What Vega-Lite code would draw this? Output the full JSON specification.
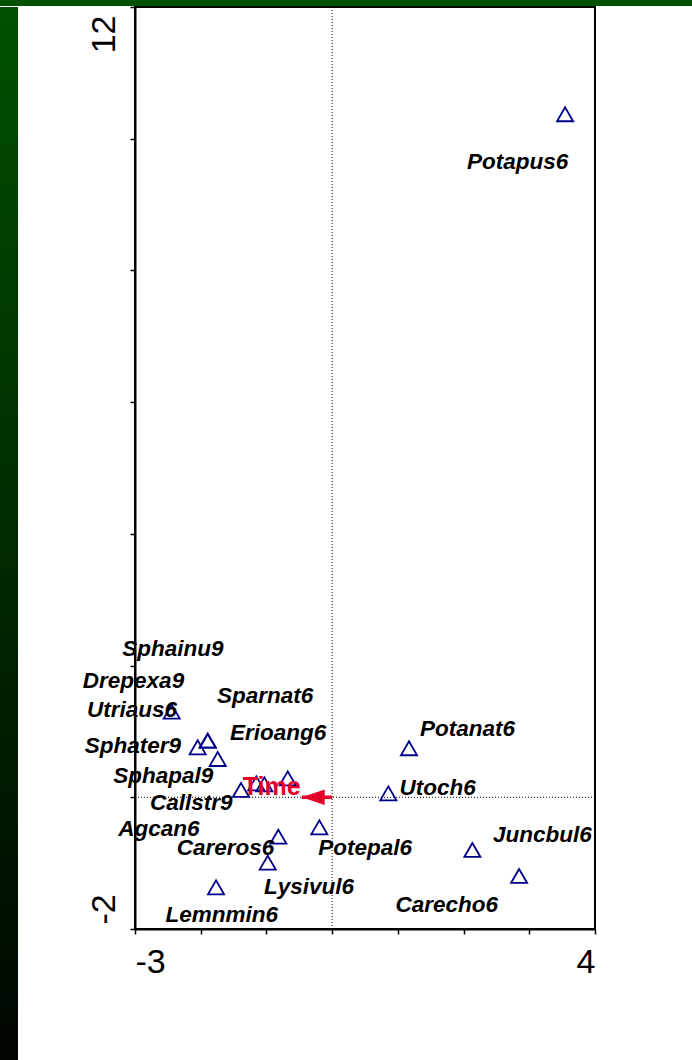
{
  "$schema": "https://vega.github.io/schema/vega-lite/v6.json",
  "background": "white",
  "padding": 0,
  "bounds": "flush",
  "spacing": 1,
  "config": {
    "view": {"stroke": null},
    "font": "Liberation Sans"
  },
  "datasets": {
    "species": [
      {"name": "Potapus6", "x": 3.545, "y": 10.371, "lx": 2.822, "ly": 9.654},
      {"name": "Sphainu9", "x": -1.893, "y": 0.859, "lx": -2.422, "ly": 2.252},
      {"name": "Drepexa9", "x": -1.893, "y": 0.859, "lx": -3.023, "ly": 1.766},
      {"name": "Utriaus6", "x": -2.441, "y": 1.3, "lx": -3.046, "ly": 1.325},
      {"name": "Sparnat6", "x": -1.154, "y": 0.212, "lx": -1.021, "ly": 1.538},
      {"name": "Erioang6", "x": -0.676, "y": 0.288, "lx": -0.823, "ly": 0.976},
      {"name": "Potanat6", "x": 1.17, "y": 0.744, "lx": 2.061, "ly": 1.037},
      {"name": "Sphater9", "x": -2.046, "y": 0.759, "lx": -3.032, "ly": 0.786},
      {"name": "Sphapal9", "x": -1.741, "y": 0.581, "lx": -2.569, "ly": 0.316},
      {"name": "Utoch6", "x": 0.855, "y": 0.06, "lx": 1.607, "ly": 0.141},
      {"name": "Callstr9", "x": -1.387, "y": 0.111, "lx": -2.143, "ly": -0.091},
      {"name": "Agcan6", "x": -1.032, "y": 0.197, "lx": -2.635, "ly": -0.489},
      {"name": "Juncbul6", "x": 2.134, "y": -0.8, "lx": 3.198, "ly": -0.568},
      {"name": "Careros6", "x": -0.819, "y": -0.598, "lx": -1.623, "ly": -0.775},
      {"name": "Potepal6", "x": -0.195, "y": -0.456, "lx": 0.501, "ly": -0.775},
      {"name": "Lysivul6", "x": -0.98, "y": -0.993, "lx": -0.352, "ly": -1.358},
      {"name": "Carecho6", "x": 2.845, "y": -1.195, "lx": 1.744, "ly": -1.636},
      {"name": "Lemnmin6", "x": -1.767, "y": -1.367, "lx": -1.68, "ly": -1.787}
    ],
    "env": [
      {"name": "Time", "x": -0.463, "y": 0, "lx": -0.919, "ly": 0.149}
    ],
    "strip": [{"part": "frame"}]
  },
  "vconcat": [
    {
      "width": 692,
      "height": 6,
      "data": {"name": "strip"},
      "mark": {"type": "rect", "color": "#005200"},
      "encoding": {}
    },
    {
      "bounds": "flush",
      "spacing": 117,
      "hconcat": [
        {
          "width": 18,
          "height": 1053,
          "data": {"name": "strip"},
          "mark": {
            "type": "rect",
            "color": {
              "gradient": "linear",
              "x1": 0, "y1": 0, "x2": 0, "y2": 1,
              "stops": [
                {"offset": 0, "color": "#005000"},
                {"offset": 1, "color": "#000600"}
              ]
            }
          },
          "encoding": {}
        },
        {
          "width": 460,
          "height": 922,
          "view": {"stroke": "black", "strokeWidth": 2},
          "layer": [
            {
              "data": {"name": "env"},
              "mark": {"type": "rule", "color": "black", "strokeWidth": 1, "strokeDash": [1, 2]},
              "encoding": {
                "x": {"datum": 0, "type": "quantitative", "title": null, "scale": {"domain": [-3, 4], "nice": false, "zero": false}}
              }
            },
            {
              "data": {"name": "env"},
              "mark": {"type": "rule", "color": "black", "strokeWidth": 1, "strokeDash": [1, 2]},
              "encoding": {
                "y": {"datum": 0, "type": "quantitative", "title": null, "scale": {"domain": [-2, 12], "nice": false, "zero": false}}
              }
            },
            {
              "data": {"name": "species"},
              "mark": {"type": "point", "shape": "triangle-up", "size": 260, "filled": false, "stroke": "#000088", "strokeWidth": 1.8, "opacity": 1},
              "encoding": {
                "x": {
                  "field": "x", "type": "quantitative", "title": null,
                  "scale": {"domain": [-3, 4], "nice": false, "zero": false},
                  "axis": {
                    "title": null,
                    "values": [-3, -2, -1, 0, 1, 2, 3, 4],
                    "labelExpr": "datum.value == -3 ? '-3' : (datum.value == 4 ? '4' : '')",
                    "labelFlush": true,
                    "labelOverlap": false,
                    "labelFont": "Liberation Sans",
                    "labelFontSize": 34,
                    "labelColor": "black",
                    "labelPadding": 11,
                    "tickSize": 5,
                    "tickWidth": 1.5,
                    "tickColor": "black",
                    "domainColor": "black",
                    "domainWidth": 2,
                    "grid": false
                  }
                },
                "y": {
                  "field": "y", "type": "quantitative", "title": null,
                  "scale": {"domain": [-2, 12], "nice": false, "zero": false},
                  "axis": {
                    "title": null,
                    "values": [-2, 0, 2, 4, 6, 8, 10, 12],
                    "labelExpr": "datum.value == 12 ? '12' : (datum.value == -2 ? '-2' : '')",
                    "labelAngle": 270,
                    "labelAlign": {"condition": {"test": "datum.value > 5", "value": "right"}, "value": "left"},
                    "labelBaseline": "alphabetic",
                    "labelOffset": {"condition": {"test": "datum.value > 5", "value": 8}, "value": -5},
                    "labelFlush": false,
                    "labelOverlap": false,
                    "labelFont": "Liberation Sans",
                    "labelFontSize": 34,
                    "labelColor": "black",
                    "labelPadding": 16,
                    "tickSize": 5,
                    "tickWidth": 1.5,
                    "tickColor": "black",
                    "domainColor": "black",
                    "domainWidth": 2,
                    "grid": false
                  }
                }
              }
            },
            {
              "data": {"name": "env"},
              "mark": {"type": "rule", "color": "#E4002B", "strokeWidth": 3.5},
              "encoding": {
                "x": {"field": "x", "type": "quantitative", "title": null, "scale": {"domain": [-3, 4], "nice": false, "zero": false}},
                "x2": {"datum": 0},
                "y": {"field": "y", "type": "quantitative", "title": null, "scale": {"domain": [-2, 12], "nice": false, "zero": false}}
              }
            },
            {
              "data": {"name": "env"},
              "mark": {"type": "point", "shape": "M0,0L1,-0.34L1,0.34Z", "size": 2116, "filled": true, "fill": "#E4002B", "strokeWidth": 0, "opacity": 1},
              "encoding": {
                "x": {"field": "x", "type": "quantitative", "title": null, "scale": {"domain": [-3, 4], "nice": false, "zero": false}},
                "y": {"field": "y", "type": "quantitative", "title": null, "scale": {"domain": [-2, 12], "nice": false, "zero": false}}
              }
            },
            {
              "data": {"name": "species"},
              "mark": {"type": "text", "font": "Liberation Sans", "fontSize": 22.5, "fontWeight": "bold", "fontStyle": "italic", "color": "black", "align": "center", "baseline": "middle"},
              "encoding": {
                "x": {"field": "lx", "type": "quantitative", "title": null, "scale": {"domain": [-3, 4], "nice": false, "zero": false}},
                "y": {"field": "ly", "type": "quantitative", "title": null, "scale": {"domain": [-2, 12], "nice": false, "zero": false}},
                "text": {"field": "name"}
              }
            },
            {
              "data": {"name": "env"},
              "mark": {"type": "text", "font": "Liberation Sans", "fontSize": 25, "fontWeight": "bold", "color": "#E4002B", "align": "center", "baseline": "middle"},
              "encoding": {
                "x": {"field": "lx", "type": "quantitative", "title": null, "scale": {"domain": [-3, 4], "nice": false, "zero": false}},
                "y": {"field": "ly", "type": "quantitative", "title": null, "scale": {"domain": [-2, 12], "nice": false, "zero": false}},
                "text": {"field": "name"}
              }
            }
          ]
        }
      ]
    }
  ]
}
